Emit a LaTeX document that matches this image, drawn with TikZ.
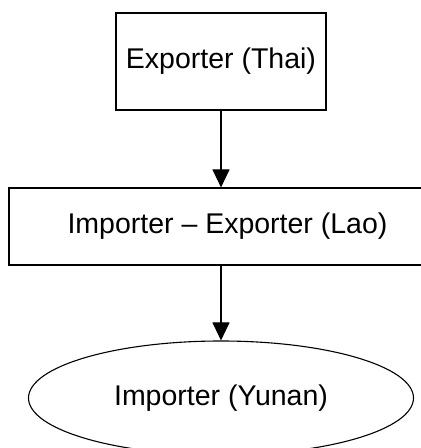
\documentclass[tikz,border=0pt]{standalone}
\usepackage{fontspec}
\setmainfont{Liberation Sans}
\usepackage{tikz}
\usetikzlibrary{shapes.geometric}
\usetikzlibrary{arrows.meta}

\tikzset{
	flowbox/.style={draw, line width=1.1pt, inner sep=0pt, font=\fontsize{28.5}{34}\selectfont},
	flowarrow/.style={line width=1.1pt, -{Triangle[width=17pt,length=18pt]}}
}

\begin{document}
\begin{tikzpicture}[x=1pt,y=1pt]
			\useasboundingbox (0,0) rectangle (421,448);
			\node[flowbox, minimum width=210pt, minimum height=97pt] (thai) at (221,386.5) {Exporter (Thai)};
			\node[flowbox, minimum width=437pt, minimum height=77pt] (lao) at (227.5,221.5) {Importer -- Exporter (Lao)};
			\node[flowbox, ellipse, minimum width=385pt, minimum height=114pt] (yunan) at (221,50) {Importer (Yunan)};
			\draw[flowarrow] (thai.south -| 221,0) -- (lao.north -| 221,0);
			\draw[flowarrow] (lao.south -| 221,0) -- (yunan.north);
		\end{tikzpicture}
\end{document}
